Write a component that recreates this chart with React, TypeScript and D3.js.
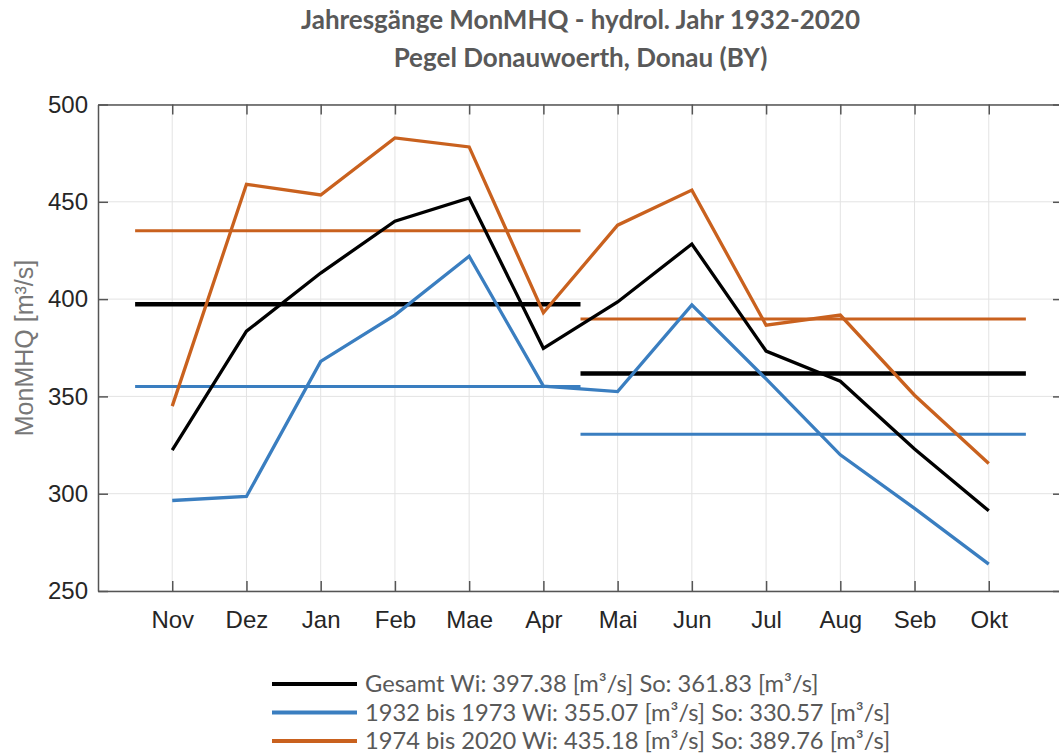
import React, { useRef, useEffect } from "react";
import * as d3 from "d3";

const MONTHS = ["Nov", "Dez", "Jan", "Feb", "Mae", "Apr", "Mai", "Jun", "Jul", "Aug", "Seb", "Okt"];
const GESAMT = [322.4, 383.5, 413.4, 440, 452, 374.7, 398.5, 428.3, 373.3, 357.8, 323, 291.2];
const PERIOD_1932_1973 = [296.5, 298.6, 368, 391.8, 422, 355.3, 352.5, 397, 359, 320, 292.5, 263.8];
const PERIOD_1974_2020 = [345, 459, 453.5, 482.8, 478.2, 393, 438, 456, 386.6, 391.8, 350.6, 315.5];
const Y_TICKS = [250, 300, 350, 400, 450, 500];

const SERIES = [
  { label: "Gesamt Wi: 397.38 [m³/s] So: 361.83 [m³/s]", values: GESAMT, wi: 397.38, so: 361.83, color: "#000000", meanWidth: 4.5 },
  { label: "1932 bis 1973 Wi: 355.07 [m³/s] So: 330.57 [m³/s]", values: PERIOD_1932_1973, wi: 355.07, so: 330.57, color: "#3a7ec0", meanWidth: 3 },
  { label: "1974 bis 2020 Wi: 435.18 [m³/s] So: 389.76 [m³/s]", values: PERIOD_1974_2020, wi: 435.18, so: 389.76, color: "#c9611e", meanWidth: 3 },
];

const WIDTH = 1059;
const HEIGHT = 756;
const PLOT = { left: 98, right: 1063, top: 104.5, bottom: 591 };
const SANS = "Liberation Sans, Arial, sans-serif";
const CALIBRI_LIKE = "Lato, Open Sans, sans-serif";

export default function App() {
  const svgRef = useRef<SVGSVGElement>(null);

  useEffect(() => {
    const svg = d3.select(svgRef.current);
    svg.selectAll("*").remove();

    // month index 0..11, axis spans -1..12
    const x = d3.scaleLinear().domain([-1, 12]).range([PLOT.left, PLOT.right]);
    const y = d3.scaleLinear().domain([250, 500]).range([PLOT.bottom, PLOT.top]);

    svg.append("rect").attr("width", WIDTH).attr("height", HEIGHT).attr("fill", "#fff");

    // grid
    const grid = svg.append("g").attr("stroke", "#e3e3e3").attr("stroke-width", 1);
    MONTHS.forEach((_, i) => {
      grid.append("line").attr("x1", x(i)).attr("x2", x(i)).attr("y1", PLOT.top).attr("y2", PLOT.bottom);
    });
    Y_TICKS.forEach((t) => {
      grid.append("line").attr("x1", PLOT.left).attr("x2", PLOT.right).attr("y1", y(t)).attr("y2", y(t));
    });

    // axes
    const xAxis = svg
      .append("g")
      .attr("transform", `translate(0,${PLOT.bottom})`)
      .call(
        d3.axisBottom(x)
          .tickValues(d3.range(MONTHS.length))
          .tickFormat((i) => MONTHS[+i])
          .tickSizeInner(-10)
          .tickSizeOuter(0)
          .tickPadding(20),
      );
    const xTop = svg
      .append("g")
      .attr("transform", `translate(0,${PLOT.top})`)
      .call(d3.axisTop(x).tickValues(d3.range(MONTHS.length)).tickFormat(() => "").tickSizeInner(-10).tickSizeOuter(0));
    const yAxis = svg
      .append("g")
      .attr("transform", `translate(${PLOT.left},0)`)
      .call(d3.axisLeft(y).tickValues(Y_TICKS).tickSizeInner(-10).tickSizeOuter(0).tickPadding(10));
    const yRight = svg
      .append("g")
      .attr("transform", `translate(${PLOT.right},0)`)
      .call(d3.axisRight(y).tickValues(Y_TICKS).tickFormat(() => "").tickSizeInner(-10).tickSizeOuter(0));

    [xAxis, xTop, yAxis, yRight].forEach((a) => {
      a.select(".domain").attr("stroke", "#555").attr("stroke-width", 1.5);
      a.selectAll(".tick line").attr("stroke", "#555").attr("stroke-width", 1.5);
      a.selectAll("text")
        .attr("font-family", SANS)
        .attr("font-size", 24)
        .attr("fill", "#262626");
    });
    xAxis.selectAll("text").attr("dy", "0.71em");

    // mean lines (winter Nov-Apr, summer Mai-Okt)
    SERIES.forEach((s) => {
      svg.append("line")
        .attr("x1", x(-0.5)).attr("x2", x(5.5))
        .attr("y1", y(s.wi)).attr("y2", y(s.wi))
        .attr("stroke", s.color).attr("stroke-width", s.meanWidth);
      svg.append("line")
        .attr("x1", x(5.5)).attr("x2", x(11.5))
        .attr("y1", y(s.so)).attr("y2", y(s.so))
        .attr("stroke", s.color).attr("stroke-width", s.meanWidth);
    });

    // series
    const line = d3.line<number>().x((_, i) => x(i)).y((d) => y(d));
    SERIES.forEach((s) => {
      svg.append("path")
        .datum(s.values)
        .attr("d", line)
        .attr("fill", "none")
        .attr("stroke", s.color)
        .attr("stroke-width", 3.3)
        .attr("stroke-linejoin", "miter");
    });

    // y label
    svg.append("text")
      .attr("transform", `translate(33,348) rotate(-90)`)
      .attr("text-anchor", "middle")
      .attr("font-family", SANS)
      .attr("font-size", 25)
      .attr("fill", "#777")
      .text("MonMHQ [m³/s]");

    // title
    const cx = (PLOT.left + PLOT.right) / 2;
    ["Jahresgänge MonMHQ - hydrol. Jahr 1932-2020", "Pegel Donauwoerth, Donau (BY)"].forEach((t, i) => {
      svg.append("text")
        .attr("x", cx)
        .attr("y", 29 + i * 38)
        .attr("text-anchor", "middle")
        .attr("font-family", CALIBRI_LIKE)
        .attr("font-weight", "bold")
        .attr("font-size", 26)
        .attr("fill", "#595959")
        .text(t);
    });

    // legend
    SERIES.forEach((s, i) => {
      const ly = 684 + i * 28.5;
      svg.append("line")
        .attr("x1", 272).attr("x2", 357)
        .attr("y1", ly).attr("y2", ly)
        .attr("stroke", s.color).attr("stroke-width", 4);
      svg.append("text")
        .attr("x", 365)
        .attr("y", ly)
        .attr("dy", "0.35em")
        .attr("font-family", CALIBRI_LIKE)
        .attr("font-size", 23.7)
        .attr("fill", "#595959")
        .text(s.label);
    });
  }, []);

  return <svg ref={svgRef} width={WIDTH} height={HEIGHT} style={{ display: "block", position: "absolute", left: 0, top: 0 }} />;
}
